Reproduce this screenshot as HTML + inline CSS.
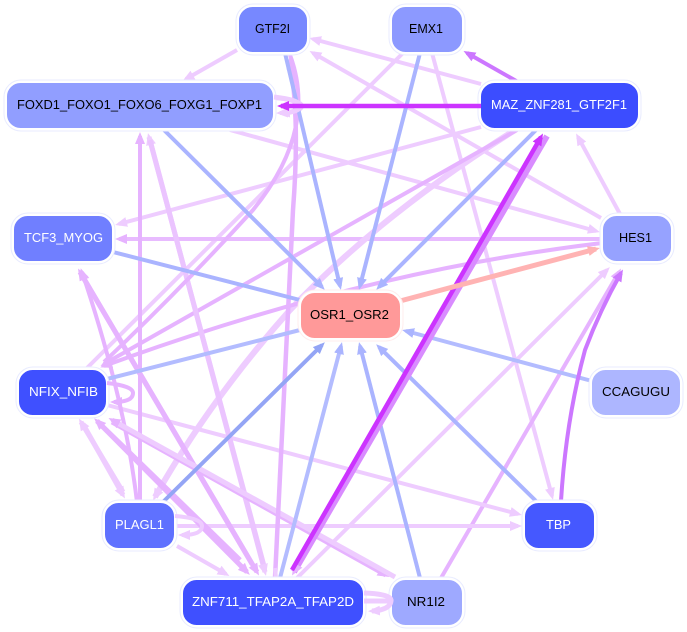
<!DOCTYPE html>
<html><head><meta charset="utf-8"><style>
html,body{margin:0;padding:0;background:#fff}
svg{display:block}
text{font-family:"Liberation Sans",sans-serif;font-size:12.5px;text-anchor:start}
path,line{fill:none}
.l{stroke:#eeccff;stroke-width:4}
.m{stroke:#e6b3ff;stroke-width:4}
.b{stroke:#aab4ff;stroke-width:4}
.h{stroke:#cc33ff;stroke-width:4.500}
.p{stroke:#cc77ff;stroke-width:4}
.n{stroke:#e8ebff;stroke-width:1}
</style></head><body>
<svg width="687" height="632" viewBox="0 0 687 632" xmlns="http://www.w3.org/2000/svg">
<defs>
<marker id="al" markerUnits="userSpaceOnUse" markerWidth="13" markerHeight="11" refX="8" refY="5.500" orient="auto"><polygon points="0,0.500 12,5.500 0,10.500" fill="#eeccff"/></marker>
<marker id="am" markerUnits="userSpaceOnUse" markerWidth="13" markerHeight="11" refX="8" refY="5.500" orient="auto"><polygon points="0,0.500 12,5.500 0,10.500" fill="#e6b3ff"/></marker>
<marker id="ab" markerUnits="userSpaceOnUse" markerWidth="13" markerHeight="11" refX="8" refY="5.500" orient="auto"><polygon points="0,0.500 12,5.500 0,10.500" fill="#aab4ff"/></marker>
<marker id="ad" markerUnits="userSpaceOnUse" markerWidth="13" markerHeight="11" refX="8" refY="5.500" orient="auto"><polygon points="0,0.500 12,5.500 0,10.500" fill="#94a5f5"/></marker>
<marker id="ah" markerUnits="userSpaceOnUse" markerWidth="13" markerHeight="11" refX="8" refY="5.500" orient="auto"><polygon points="0,0.500 12,5.500 0,10.500" fill="#cc33ff"/></marker>
<marker id="ap" markerUnits="userSpaceOnUse" markerWidth="13" markerHeight="11" refX="8" refY="5.500" orient="auto"><polygon points="0,0.500 12,5.500 0,10.500" fill="#cc77ff"/></marker>
<marker id="ar" markerUnits="userSpaceOnUse" markerWidth="13" markerHeight="11" refX="8" refY="5.500" orient="auto"><polygon points="0,0.500 12,5.500 0,10.500" fill="#ffb3b3"/></marker>
</defs>

<!-- light edges -->
<line class="l" x1="237" y1="50" x2="186" y2="79" marker-end="url(#al)"/>
<line class="l" x1="481" y1="84" x2="313" y2="39" marker-end="url(#al)"/>
<line class="l" x1="601" y1="218" x2="313" y2="53" marker-end="url(#al)"/>
<line class="l" x1="230" y1="130" x2="596" y2="231" marker-end="url(#al)"/>
<line class="l" x1="432" y1="53" x2="552" y2="496" marker-end="url(#al)"/>
<line class="l" x1="403" y1="53" x2="87" y2="368"/>
<line class="l" x1="481" y1="127" x2="119" y2="224" marker-end="url(#al)"/>
<line class="m" x1="602" y1="239" x2="119" y2="239" marker-end="url(#am)" style="stroke:#e8bbff"/>
<path class="l" style="stroke-width:6" d="M515 130 Q380 215 290 310 Q210 400 155 497" marker-end="url(#al)"/>
<path class="m" d="M602 243 Q360 272 104 366" marker-end="url(#am)"/>
<line class="m" x1="517" y1="130" x2="104" y2="364" marker-end="url(#am)"/>
<line class="l" x1="620" y1="214" x2="578" y2="137" marker-end="url(#al)"/>
<line class="l" x1="297" y1="578" x2="607" y2="270" marker-end="url(#al)"/>
<line class="m" x1="441" y1="578" x2="619" y2="272" marker-end="url(#am)"/>
<line class="l" x1="175" y1="526" x2="518" y2="526" marker-end="url(#al)"/>
<line class="l" x1="107" y1="405" x2="518" y2="514" marker-end="url(#al)"/>
<line class="m" x1="140" y1="502" x2="140" y2="136" marker-end="url(#am)"/>
<line class="l" style="stroke:#ebc4ff;stroke-width:5" x1="264" y1="566" x2="149" y2="137" marker-end="url(#al)"/>
<line class="l" style="stroke:#ebc4ff;stroke-width:5" x1="150" y1="140" x2="265" y2="572" marker-end="url(#al)"/>
<line class="m" style="stroke-width:5" x1="80" y1="272" x2="257" y2="572" marker-end="url(#am)"/>
<line class="m" style="stroke-width:5" x1="252" y1="564" x2="80" y2="272" marker-end="url(#am)"/>
<path class="m" d="M137 502 Q125 400 82 272" marker-end="url(#am)"/>
<line class="l" style="stroke-width:5" x1="83" y1="424" x2="123" y2="495" marker-end="url(#al)"/>
<line class="l" style="stroke-width:5" x1="123" y1="492" x2="81" y2="422" marker-end="url(#al)"/>
<line class="m" style="stroke-width:5" x1="97" y1="421" x2="247" y2="572" marker-end="url(#am)"/>
<line class="m" style="stroke-width:5" x1="240" y1="560" x2="97" y2="421" marker-end="url(#am)"/>
<line class="m" style="stroke-width:5" x1="112" y1="422" x2="386" y2="575" marker-end="url(#am)"/>
<line class="l" style="stroke-width:5" x1="395" y1="577" x2="112" y2="420" marker-end="url(#am)"/>
<line class="l" x1="177" y1="546" x2="226" y2="574" marker-end="url(#al)"/>
<path class="m" style="stroke-width:4.500" d="M275 578 Q283 420 293 210 Q300 120 290 61" marker-end="url(#am)"/>
<path class="m" d="M290 55 Q318 130 253 210 Q180 290 104 362"/>
<path class="l" d="M273 98 Q302 100 302 106 Q302 112 280 113" marker-end="url(#al)"/>
<line class="l" x1="275" y1="568" x2="276" y2="578"/>

<!-- blue edges -->
<line class="b" x1="164" y1="130" x2="322" y2="287" marker-end="url(#ab)"/>
<line class="b" x1="285" y1="53" x2="340" y2="286" marker-end="url(#ab)"/>
<line class="b" x1="420" y1="53" x2="360" y2="286" marker-end="url(#ab)"/>
<line class="b" x1="536" y1="130" x2="379" y2="287" marker-end="url(#ab)"/>
<line class="b" x1="113" y1="252" x2="300" y2="300"/>
<line class="b" style="stroke:#b3bcff" x1="107" y1="379" x2="300" y2="330"/>
<line class="b" style="stroke:#b3bcff" x1="592" y1="381" x2="406" y2="331" marker-end="url(#ab)"/>
<line class="b" x1="536" y1="501" x2="379" y2="347" marker-end="url(#ab)"/>
<line class="b" x1="420" y1="578" x2="360" y2="346" marker-end="url(#ab)"/>
<line class="b" style="stroke:#94a5f5" x1="163" y1="502" x2="322" y2="345" marker-end="url(#ad)"/>
<line class="b" style="stroke:#b3bcff" x1="280" y1="578" x2="341" y2="346" marker-end="url(#ab)"/>

<!-- strong edges -->
<line class="l" style="stroke:#d98cff;stroke-width:6" x1="547" y1="136" x2="294" y2="572" marker-end="url(#am)"/>
<line class="h" x1="292" y1="570" x2="541" y2="137" marker-end="url(#ah)"/>
<line class="p" x1="518" y1="82" x2="467" y2="53" marker-end="url(#ap)"/>
<path class="p" d="M561 501 Q566 420 585 350 Q600 310 621 273" marker-end="url(#ap)"/>
<line x1="400" y1="301" x2="596" y2="249" style="stroke:#ffb3b3;stroke-width:5" marker-end="url(#ar)"/>

<!-- nodes -->
<g>
<rect x="236" y="4" width="74" height="51" rx="17" fill="#fff" class="n"/><rect x="238.500" y="6.500" width="69" height="46" rx="14" fill="#7788ff" stroke="#fff" stroke-width="1"/><text x="255" y="33" textLength="35" lengthAdjust="spacingAndGlyphs">GTF2I</text>
<rect x="389" y="4" width="76" height="51" rx="17" fill="#fff" class="n"/><rect x="391.500" y="6.500" width="71" height="46" rx="14" fill="#8c99ff" stroke="#fff" stroke-width="1"/><text x="409" y="33" textLength="34" lengthAdjust="spacingAndGlyphs">EMX1</text>
<rect x="4" y="80" width="272" height="51" rx="17" fill="#fff" class="n"/><rect x="6.500" y="82.500" width="267" height="46" rx="14" fill="#919eff" stroke="#fff" stroke-width="1"/><text x="17" y="109" textLength="245" lengthAdjust="spacingAndGlyphs">FOXD1_FOXO1_FOXO6_FOXG1_FOXP1</text>
<rect x="478" y="80" width="163" height="51" rx="17" fill="#fff" class="n"/><rect x="480.500" y="82.500" width="158" height="46" rx="14" fill="#3c4dff" stroke="#fff" stroke-width="1"/><text x="491" y="109" textLength="136" lengthAdjust="spacingAndGlyphs" fill="#fff">MAZ_ZNF281_GTF2F1</text>
<rect x="11" y="213" width="104" height="51" rx="17" fill="#fff" class="n"/><rect x="13.500" y="215.500" width="99" height="46" rx="14" fill="#707fff" stroke="#fff" stroke-width="1"/><text x="24" y="242" textLength="79" lengthAdjust="spacingAndGlyphs" fill="#fff">TCF3_MYOG</text>
<rect x="600" y="213" width="74" height="51" rx="17" fill="#fff" class="n"/><rect x="602.500" y="215.500" width="69" height="46" rx="14" fill="#96a2ff" stroke="#fff" stroke-width="1"/><text x="619" y="242" textLength="33" lengthAdjust="spacingAndGlyphs">HES1</text>
<rect x="298" y="290" width="105" height="51" rx="17" fill="#fff" stroke="#ffecec" stroke-width="1"/><rect x="300.500" y="292.500" width="100" height="46" rx="14" fill="#ff9999" stroke="#fff" stroke-width="1"/><text x="310" y="319" textLength="79" lengthAdjust="spacingAndGlyphs">OSR1_OSR2</text>
<rect x="16" y="367" width="93" height="51" rx="17" fill="#fff" class="n"/><rect x="18.500" y="369.500" width="88" height="46" rx="14" fill="#3f50ff" stroke="#fff" stroke-width="1"/><text x="29" y="396" textLength="69" lengthAdjust="spacingAndGlyphs" fill="#fff">NFIX_NFIB</text>
<rect x="589" y="367" width="94" height="51" rx="17" fill="#fff" class="n"/><rect x="591.500" y="369.500" width="89" height="46" rx="14" fill="#adb6ff" stroke="#fff" stroke-width="1"/><text x="602" y="396" textLength="68" lengthAdjust="spacingAndGlyphs">CCAGUGU</text>
<rect x="102" y="500" width="75" height="51" rx="17" fill="#fff" class="n"/><rect x="104.500" y="502.500" width="70" height="46" rx="14" fill="#5f71ff" stroke="#fff" stroke-width="1"/><text x="115" y="529" textLength="49" lengthAdjust="spacingAndGlyphs" fill="#fff">PLAGL1</text>
<rect x="522" y="500" width="75" height="51" rx="17" fill="#fff" class="n"/><rect x="524.500" y="502.500" width="70" height="46" rx="14" fill="#4558ff" stroke="#fff" stroke-width="1"/><text x="546" y="529" textLength="25" lengthAdjust="spacingAndGlyphs" fill="#fff">TBP</text>
<rect x="180" y="577" width="186" height="51" rx="17" fill="#fff" class="n"/><rect x="182.500" y="579.500" width="181" height="46" rx="14" fill="#3f50ff" stroke="#fff" stroke-width="1"/><text x="192" y="606" textLength="162" lengthAdjust="spacingAndGlyphs" fill="#fff">ZNF711_TFAP2A_TFAP2D</text>
<rect x="389" y="577" width="76" height="51" rx="17" fill="#fff" class="n"/><rect x="391.500" y="579.500" width="71" height="46" rx="14" fill="#9ea9ff" stroke="#fff" stroke-width="1"/><text x="407" y="606" textLength="38" lengthAdjust="spacingAndGlyphs">NR1I2</text>
</g>

<!-- edge tips over the node halos -->
<path class="l" style="stroke-width:5" d="M364 593 Q392 594 391 601 Q390 610 372 611" marker-end="url(#al)"/>
<line class="l" style="stroke-width:5" x1="364" y1="601" x2="391" y2="601"/>
<path class="l" style="stroke-width:5" d="M274 97 Q300 100 300 106 Q300 112 282 113" marker-end="url(#al)"/>
<line class="h" x1="481" y1="106" x2="281" y2="106" marker-end="url(#ah)"/>
<path class="m" d="M107 383 Q133 386 133 393 Q133 402 114 402" marker-end="url(#am)"/>
<path class="l" d="M175 516 Q202 518 202 526 Q202 535 182 535" marker-end="url(#al)"/>
</svg>
</body></html>
